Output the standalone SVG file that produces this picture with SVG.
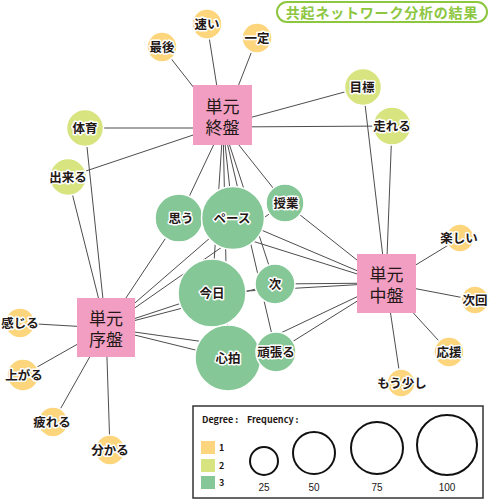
<svg xmlns="http://www.w3.org/2000/svg" width="490" height="500" viewBox="0 0 490 500">
<style>
text{font-family:"Noto Sans CJK JP","Noto Sans",sans-serif;}
.e{stroke:#4d4d4d;stroke-width:1;fill:none;}
.d1{fill:#fdd57c;}
.d2{fill:#d8e47f;}
.d3{fill:#85c797;}
.n circle{stroke:#fff;stroke-width:1.5;}
.lb{font-size:12.5px;font-weight:bold;fill:#231815;text-anchor:middle;stroke:#fff;stroke-width:3;paint-order:stroke;stroke-linejoin:round;}
.hub rect{fill:#f19ec2;}
.ht{font-size:17px;fill:#231815;text-anchor:middle;}
.lg{font-size:9px;font-weight:bold;fill:#231815;}
.fc{fill:none;stroke:#111;stroke-width:2;}
.fn{font-family:"Liberation Sans",sans-serif;font-size:10px;fill:#231815;text-anchor:middle;}
</style>
<rect width="490" height="500" fill="#fff"/>
<g id="title">
<rect x="277" y="2" width="210" height="20" rx="10" fill="#fff" stroke="#8dc63f" stroke-width="2"/>
<text x="382" y="17.5" font-size="14" font-weight="bold" fill="#8dc63f" text-anchor="middle" letter-spacing="0.8">共起ネットワーク分析の結果</text>
</g>
<g id="connectors">
<line class="e" x1="223" y1="125" x2="162" y2="47"/>
<line class="e" x1="223" y1="125" x2="207" y2="24"/>
<line class="e" x1="223" y1="125" x2="257" y2="38"/>
<line class="e" x1="223" y1="128" x2="85" y2="128"/>
<line class="e" x1="223" y1="125" x2="68" y2="177"/>
<line class="e" x1="223" y1="125" x2="363" y2="87"/>
<line class="e" x1="223" y1="127" x2="392" y2="126"/>
<line class="e" x1="223" y1="125" x2="179" y2="218"/>
<line class="e" x1="223" y1="125" x2="233" y2="218"/>
<line class="e" x1="223" y1="125" x2="285" y2="203"/>
<line class="e" x1="223" y1="125" x2="212" y2="293"/>
<line class="e" x1="223" y1="125" x2="275" y2="284"/>
<line class="e" x1="223" y1="125" x2="228" y2="358"/>
<line class="e" x1="223" y1="125" x2="276" y2="352"/>
<line class="e" x1="386" y1="283" x2="460" y2="238"/>
<line class="e" x1="386" y1="283" x2="475" y2="300"/>
<line class="e" x1="386" y1="283" x2="449" y2="352"/>
<line class="e" x1="386" y1="283" x2="401" y2="383"/>
<line class="e" x1="386" y1="283" x2="363" y2="87"/>
<line class="e" x1="386" y1="283" x2="392" y2="126"/>
<line class="e" x1="386" y1="283" x2="179" y2="218"/>
<line class="e" x1="386" y1="283" x2="233" y2="218"/>
<line class="e" x1="386" y1="283" x2="285" y2="203"/>
<line class="e" x1="386" y1="283" x2="212" y2="293"/>
<line class="e" x1="386" y1="283" x2="275" y2="284"/>
<line class="e" x1="386" y1="283" x2="228" y2="358"/>
<line class="e" x1="386" y1="283" x2="276" y2="352"/>
<line class="e" x1="106" y1="328" x2="20" y2="323"/>
<line class="e" x1="106" y1="328" x2="23" y2="375"/>
<line class="e" x1="106" y1="328" x2="53" y2="422"/>
<line class="e" x1="106" y1="328" x2="110" y2="450"/>
<line class="e" x1="106" y1="328" x2="85" y2="128"/>
<line class="e" x1="106" y1="328" x2="68" y2="177"/>
<line class="e" x1="106" y1="328" x2="179" y2="218"/>
<line class="e" x1="106" y1="328" x2="233" y2="218"/>
<line class="e" x1="106" y1="328" x2="285" y2="203"/>
<line class="e" x1="106" y1="328" x2="212" y2="293"/>
<line class="e" x1="106" y1="328" x2="275" y2="284"/>
<line class="e" x1="106" y1="328" x2="228" y2="358"/>
<line class="e" x1="106" y1="328" x2="276" y2="352"/>
</g>
<g id="hub-late" class="hub"><rect x="193" y="85" width="59" height="60"/><text class="ht" x="222.5" y="112.5">単元</text><text class="ht" x="222.5" y="134">終盤</text></g>
<g id="hub-mid" class="hub"><rect x="357" y="254" width="59" height="59"/><text class="ht" x="386.5" y="280.5">単元</text><text class="ht" x="386.5" y="302">中盤</text></g>
<g id="hub-early" class="hub"><rect x="77" y="298" width="58" height="59"/><text class="ht" x="106" y="324.5">単元</text><text class="ht" x="106" y="346">序盤</text></g>

<g id="n-saigo" class="n"><circle class="d1" cx="162" cy="47" r="15"/><text class="lb" x="162" y="51.5">最後</text></g>
<g id="n-hayai" class="n"><circle class="d1" cx="207" cy="24" r="15"/><text class="lb" x="207" y="28.5">速い</text></g>
<g id="n-ittei" class="n"><circle class="d1" cx="257" cy="38" r="15"/><text class="lb" x="257" y="42.5">一定</text></g>
<g id="n-kanjiru" class="n"><circle class="d1" cx="20" cy="323" r="15"/><text class="lb" x="20" y="327.5">感じる</text></g>
<g id="n-agaru" class="n"><circle class="d1" cx="23" cy="375" r="16"/><text class="lb" x="24" y="379.5">上がる</text></g>
<g id="n-tsukareru" class="n"><circle class="d1" cx="53" cy="422" r="15"/><text class="lb" x="52" y="426.5">疲れる</text></g>
<g id="n-wakaru" class="n"><circle class="d1" cx="110" cy="450" r="15"/><text class="lb" x="110" y="454.5">分かる</text></g>
<g id="n-tanoshii" class="n"><circle class="d1" cx="460" cy="238" r="14"/><text class="lb" x="459" y="242.5">楽しい</text></g>
<g id="n-jikai" class="n"><circle class="d1" cx="475" cy="300" r="14"/><text class="lb" x="475" y="304.5">次回</text></g>
<g id="n-ouen" class="n"><circle class="d1" cx="449" cy="352" r="15"/><text class="lb" x="449" y="356.5">応援</text></g>
<g id="n-mousukoshi" class="n"><circle class="d1" cx="401" cy="383" r="14"/><text class="lb" x="402" y="387.5">もう少し</text></g>

<g id="n-taiiku" class="n"><circle class="d2" cx="85" cy="128" r="18.5"/><text class="lb" x="85" y="132.5">体育</text></g>
<g id="n-dekiru" class="n"><circle class="d2" cx="68" cy="177" r="18.5"/><text class="lb" x="68" y="181.5">出来る</text></g>
<g id="n-mokuhyou" class="n"><circle class="d2" cx="363" cy="87" r="18.5"/><text class="lb" x="362" y="91.5">目標</text></g>
<g id="n-hashireru" class="n"><circle class="d2" cx="392" cy="126" r="19"/><text class="lb" x="392" y="130.5">走れる</text></g>

<g id="n-omou" class="n"><circle class="d3" cx="179" cy="218" r="24"/><text class="lb" x="181" y="222.5">思う</text></g>
<g id="n-pace" class="n"><circle class="d3" cx="233" cy="218" r="31.5"/><text class="lb" x="232" y="222.5">ペース</text></g>
<g id="n-jugyou" class="n"><circle class="d3" cx="285" cy="203" r="19"/><text class="lb" x="286" y="207.5">授業</text></g>
<g id="n-kyou" class="n"><circle class="d3" cx="212" cy="293" r="34"/><text class="lb" x="212" y="297.5">今日</text></g>
<g id="n-tsugi" class="n"><circle class="d3" cx="275" cy="284" r="20"/><text class="lb" x="275" y="288.5">次</text></g>
<g id="n-shinpaku" class="n"><circle class="d3" cx="228" cy="358" r="33"/><text class="lb" x="228" y="362.5">心拍</text></g>
<g id="n-ganbaru" class="n"><circle class="d3" cx="276" cy="352" r="20"/><text class="lb" x="276" y="356.5">頑張る</text></g>

<g id="legend">
<rect x="193" y="406" width="290" height="92" fill="#fff" stroke="#333" stroke-width="1.5"/>
<text class="lg" x="202" y="423">Degree :</text>
<text class="lg" x="247" y="423">Frequency :</text>
<rect class="d1" x="201" y="441" width="14" height="13"/>
<rect class="d2" x="201" y="459" width="14" height="13"/>
<rect class="d3" x="201" y="476" width="14" height="13"/>
<text class="lg" x="219" y="451">1</text>
<text class="lg" x="219" y="469">2</text>
<text class="lg" x="219" y="486">3</text>
<circle class="fc" cx="264" cy="461" r="14"/>
<circle class="fc" cx="314" cy="453" r="21"/>
<circle class="fc" cx="377" cy="448" r="26"/>
<circle class="fc" cx="447" cy="445" r="30"/>
<text class="fn" x="264" y="491">25</text>
<text class="fn" x="314" y="491">50</text>
<text class="fn" x="377" y="491">75</text>
<text class="fn" x="447" y="491">100</text>
</g>
</svg>
